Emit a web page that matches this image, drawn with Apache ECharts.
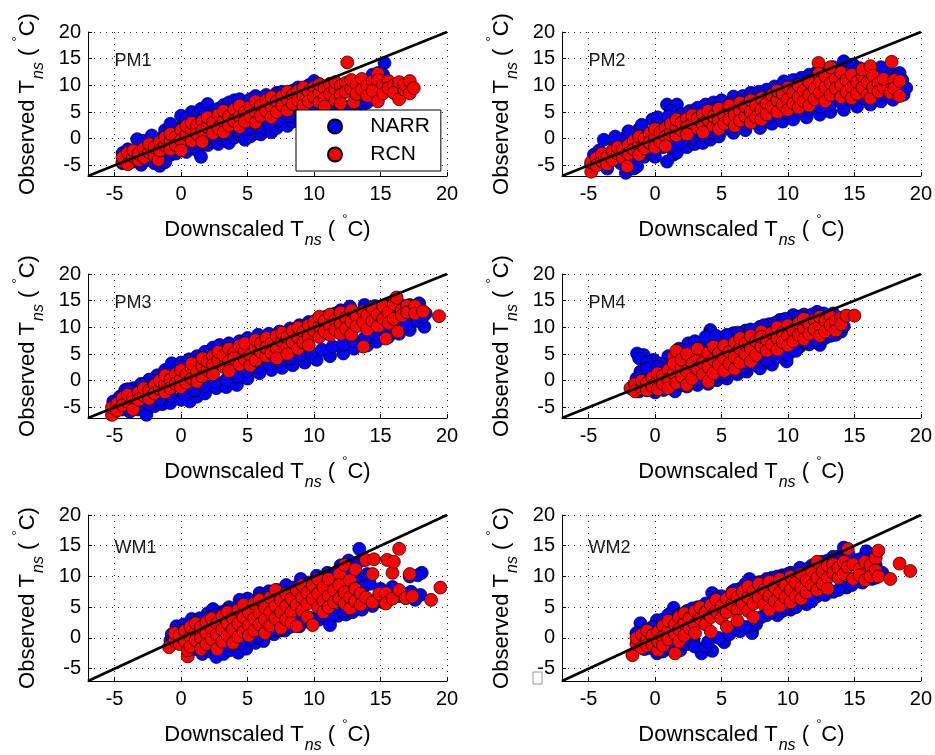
<!DOCTYPE html>
<html>
<head>
<meta charset="utf-8">
<script src="https://cdn.jsdelivr.net/npm/echarts@6/dist/echarts.min.js"></script>
<style>
html,body{margin:0;padding:0;background:#fff;}
#chart{width:935px;height:755px;}
</style>
</head>
<body>
<div id="chart"></div>
<script>
// ---------------- DATA ----------------
const panelNames = ['PM1', 'PM2', 'PM3', 'PM4', 'WM1', 'WM2'];
const seriesNames = ['NARR', 'RCN'];
const tickLabels = [-5, 0, 5, 10, 15, 20];
const axisMin = -7;
const axisMax = 20;
const oneToOne = [[-7, -7], [20, 20]];
const labelAnchor = [-5, 15];

const pm1Narr = [[-4.4,-2.7],[-4.4,-4.6],[-4.0,-2.0],[-3.6,-4.3],[-3.3,-0.1],[-3.0,-1.2],[-3.0,-4.9],[-2.6,-4.0],[-2.6,-2.0],[-2.0,-4.6],[-2.0,-0.6],[-1.6,-5.1],[-1.6,0.0],[-1.2,-4.4],[-1.2,1.6],[-0.8,-3.0],[-0.8,1.8],[-0.4,-2.8],[-0.4,1.2],[0.0,4.3],[0.0,-1.8],[0.0,2.2],[0.4,-2.5],[0.4,2.8],[0.8,5.0],[0.8,-1.6],[1.2,4.4],[1.2,-2.2],[1.2,3.2],[1.5,-3.4],[1.5,5.6],[2.0,6.5],[2.0,-1.2],[2.4,-0.6],[2.4,5.0],[2.8,5.6],[2.8,-1.0],[3.2,6.3],[3.2,0.0],[3.6,-0.8],[3.6,6.8],[4.0,7.2],[4.0,0.2],[4.4,0.8],[4.4,7.4],[4.8,-0.2],[4.8,6.6],[5.2,0.4],[5.2,7.4],[5.6,1.0],[5.6,8.0],[6.0,0.8],[6.0,7.6],[6.4,1.8],[6.4,8.2],[6.8,1.2],[6.8,7.8],[7.2,2.0],[7.2,8.6],[7.6,2.8],[7.6,8.8],[8.0,2.4],[8.0,8.6],[8.4,3.2],[8.4,9.0],[8.8,3.8],[8.8,9.6],[9.2,3.4],[9.2,9.4],[9.6,4.0],[9.6,10.0],[10.0,10.8],[10.0,4.6],[10.4,10.2],[10.4,5.2],[10.8,5.6],[10.8,4.8],[11.2,5.8],[11.6,6.2],[12.0,5.8],[12.0,5.2],[12.4,6.0],[12.8,5.8],[13.2,6.6],[13.6,6.2],[14.0,6.8],[14.8,12.3],[15.3,14.2],[15.2,12.0],
  [-3.8,-3.6],[-3.0,-3.0],[-2.2,-2.6],[-1.4,-2.6],[-0.6,-1.4],[0.2,-0.8],[1.0,-0.6],[1.8,-0.2],[2.6,0.6],[3.4,1.0],[4.2,1.6],[5.0,1.8],[5.8,2.4],[6.6,3.0],[7.4,3.6],[8.2,4.2],[9.0,4.8],[9.8,5.4],[-2.8,-0.4],[-2.2,0.6],[-0.8,2.8],[0.4,3.8],[1.8,4.6],[3.0,4.8],[4.2,5.6],[5.4,6.2],[6.6,6.8],[7.8,7.4],[9.0,8.4],[10.2,9.2],[11.0,9.4],[13.6,10.6],[14.4,12.0]];
const pm1Rcn = [[-4.4,-4.3],[-4.4,-3.5],[-4.0,-2.6],[-4.0,-4.8],[-3.6,-3.3],[-3.6,-2.2],[-3.2,-4.0],[-3.2,-2.8],[-2.8,-1.8],[-2.8,-3.5],[-2.4,-2.5],[-2.4,-1.0],[-2.0,-3.2],[-2.0,-1.6],[-1.7,-4.0],[-1.6,-0.6],[-1.6,-2.2],[-1.2,-1.2],[-1.2,0.2],[-0.8,-0.5],[-0.8,0.9],[-0.8,-2.0],[-0.4,0.3],[-0.4,-1.2],[0.0,1.6],[0.0,-0.3],[0.0,-2.2],[0.4,0.8],[0.4,2.4],[0.8,1.7],[0.8,-0.4],[0.8,3.0],[1.2,2.5],[1.2,0.9],[1.6,3.3],[1.6,1.5],[1.6,-0.6],[2.0,2.2],[2.0,4.0],[2.4,3.0],[2.4,1.0],[2.8,4.5],[2.8,2.0],[3.2,3.3],[3.2,5.2],[3.2,1.2],[3.6,4.2],[3.6,2.5],[4.0,5.5],[4.0,3.3],[4.4,4.2],[4.4,6.2],[4.4,2.2],[4.8,5.0],[4.8,3.2],[5.2,6.0],[5.2,4.2],[5.6,5.0],[5.6,7.0],[5.6,3.0],[6.0,6.2],[6.0,4.3],[6.4,7.2],[6.4,5.2],[6.8,6.0],[6.8,7.8],[6.8,4.0],[7.2,7.0],[7.2,5.0],[7.6,8.0],[7.6,6.2],[8.0,7.3],[8.0,5.3],[8.0,8.8],[8.4,8.2],[8.4,6.5],[8.8,9.0],[8.8,7.2],[9.2,8.0],[9.2,6.2],[9.2,9.6],[9.6,8.8],[9.6,7.0],[10.0,9.7],[10.0,7.8],[10.4,8.5],[10.4,10.2],[10.4,6.8],[10.8,9.4],[10.8,7.6],[10.8,6.0],[11.2,10.3],[11.2,8.4],[11.6,9.2],[11.6,7.2],[11.6,10.6],[12.0,9.9],[12.0,8.2],[12.0,6.6],[12.4,10.5],[12.4,8.8],[12.5,14.3],[12.8,9.4],[12.8,11.0],[13.0,6.8],[13.2,10.2],[13.2,8.4],[13.6,11.2],[13.6,9.2],[14.0,10.0],[14.0,8.0],[14.4,10.8],[14.4,9.0],[14.8,12.2],[14.8,11.0],[14.8,7.0],[15.2,10.0],[15.2,8.5],[15.6,10.8],[15.6,9.5],[16.0,10.0],[16.0,8.6],[16.4,10.6],[16.4,7.4],[16.8,9.2],[16.8,10.2],[17.2,10.8],[17.2,8.5],[17.5,9.5]];

const pm2Narr = [[-4.6,-3.0],[-4.8,-4.8],[-3.86,-0.2],[-4.2,-2.2],[-3.6,-5.6],[-3.0,-1.0],[-2.2,-6.4],[-1.6,-5.6],[-1.35,-5.2],[-2.6,-4.6],[-0.8,-3.4],[-0.4,-2.6],[0.0,-3.4],[0.9,-4.3],[1.4,-3.0],[1.65,-2.6],[-2.4,0.0],[-1.8,1.0],[-1.2,1.8],[-0.2,3.6],[0.2,4.0],[0.9,6.4],[1.65,6.4],[1.2,5.2],[2.0,4.6],[2.6,5.2],[3.2,5.8],[3.8,6.4],[4.4,6.8],[5.0,7.2],[5.9,7.9],[6.6,8.0],[7.2,8.6],[7.8,8.8],[8.4,9.2],[9.0,9.8],[9.7,10.75],[10.4,11.0],[11.0,11.4],[11.6,12.0],[12.2,12.6],[12.8,13.0],[13.4,13.4],[14.2,14.5],[14.9,13.9],[15.4,13.2],[16.0,13.0],[2.4,-1.6],[3.0,-1.0],[3.6,-0.8],[4.16,-0.2],[4.8,0.4],[5.9,1.1],[6.8,1.6],[7.9,2.0],[8.8,2.8],[9.6,3.2],[10.4,3.6],[11.4,4.0],[12.4,4.5],[13.2,5.0],[14.2,5.4],[15.2,6.0],[16.2,6.4],[17.0,7.0],[17.9,7.3],[18.7,8.25],[18.9,9.5],[18.4,12.3],[18.6,11.0],[17.6,12.6],[17.0,13.4],
  [-4.2,-4.0],[-3.4,-3.2],[-2.6,-2.6],[-1.8,-3.4],[-1.0,-2.6],[-0.2,-2.0],[0.6,-1.6],[1.2,-1.4],[2.0,-0.6],[2.8,0.2],[3.6,0.6],[4.4,1.2],[5.2,1.8],[6.0,2.4],[6.8,2.8],[7.6,3.2],[8.4,4.0],[9.2,4.4],[10.0,4.8],[10.8,5.2],[11.6,5.6],[12.4,6.0],[13.2,6.4],[14.0,6.8],[14.8,7.0],[15.6,7.6],[16.4,8.0],[17.2,8.4],[18.0,8.6],[17.8,10.2],[18.2,11.6],[-3.0,0.4],[-2.0,1.4],[-1.0,2.6],[0.2,2.8],[1.0,4.2],[2.2,4.0],[3.2,4.6],[4.4,5.6],[5.6,6.4],[6.8,7.2],[8.0,8.0],[9.2,8.8],[10.4,9.8],[11.6,10.8],[12.8,11.8],[14.0,12.8],[15.2,12.2],[16.4,12.6]];
const pm2Rcn = [[-4.8,-6.2],[-4.8,-4.4],[-4.4,-3.6],[-4.4,-5.0],[-4.0,-4.2],[-4.0,-2.8],[-3.6,-3.4],[-3.6,-4.8],[-3.2,-2.2],[-3.2,-4.0],[-2.8,-2.8],[-2.8,-1.6],[-2.4,-3.6],[-2.4,-2.0],[-2.1,-5.2],[-2.0,-1.2],[-2.0,-2.8],[-1.6,-0.4],[-1.6,-2.0],[-1.2,-1.2],[-1.2,0.4],[-1.2,-3.0],[-0.8,0.0],[-0.8,-1.8],[-0.4,1.0],[-0.4,-0.8],[0.0,0.3],[0.0,-1.6],[0.0,1.8],[0.4,1.2],[0.4,-0.6],[0.8,2.0],[0.8,0.4],[0.8,-1.4],[1.2,1.4],[1.2,2.8],[1.6,0.6],[1.6,2.2],[1.6,3.6],[2.0,1.6],[2.0,3.0],[2.4,3.8],[2.4,2.2],[2.4,0.8],[2.8,3.0],[2.8,4.4],[3.2,2.0],[3.2,3.8],[3.6,4.6],[3.6,2.8],[3.6,1.2],[4.0,3.6],[4.0,5.2],[4.4,2.4],[4.4,4.2],[4.8,5.6],[4.8,3.4],[4.8,1.8],[5.2,4.4],[5.2,2.8],[5.6,5.4],[5.6,3.6],[5.6,6.2],[6.0,4.4],[6.0,2.4],[6.4,5.2],[6.4,6.8],[6.4,3.4],[6.8,4.2],[6.8,6.0],[7.2,7.2],[7.2,5.0],[7.2,3.0],[7.6,6.2],[7.6,4.0],[8.0,7.6],[8.0,5.4],[8.0,3.6],[8.4,6.6],[8.4,4.6],[8.8,8.2],[8.8,6.0],[9.2,7.2],[9.2,5.0],[9.2,9.0],[9.6,8.4],[9.6,6.4],[10.0,7.4],[10.0,9.6],[10.0,5.4],[10.4,8.6],[10.4,6.6],[10.8,10.0],[10.8,7.8],[10.8,5.8],[11.2,9.0],[11.2,7.0],[11.6,10.6],[11.6,8.2],[11.6,6.2],[12.0,9.4],[12.0,7.4],[12.3,14.2],[12.3,12.2],[12.4,10.6],[12.4,8.6],[12.8,11.8],[12.8,9.6],[12.8,7.0],[13.2,10.4],[13.2,8.2],[13.2,13.4],[13.6,11.2],[13.6,9.4],[14.0,10.0],[14.0,7.8],[14.0,12.4],[14.4,11.0],[14.4,8.8],[14.8,12.0],[14.8,9.6],[14.8,7.6],[15.2,10.6],[15.2,8.4],[15.6,11.8],[15.6,9.6],[15.6,13.0],[16.0,10.6],[16.0,8.2],[16.2,7.6],[16.2,13.6],[16.4,11.8],[16.4,9.6],[16.8,10.4],[16.8,8.8],[17.2,9.6],[17.2,11.2],[17.7,8.6],[17.8,14.4],[18.0,11.0],[18.0,9.4],[18.4,10.8],[18.4,8.0]];

const pm3Narr = [[-5.1,-3.9],[-4.6,-3.0],[-4.2,-1.75],[-3.6,-1.4],[-3.0,-0.6],[-2.4,0.2],[-1.8,1.0],[-1.2,2.0],[-0.7,3.25],[0.0,3.4],[0.6,4.0],[1.2,4.6],[1.8,5.4],[2.4,6.2],[2.9,6.7],[3.6,7.0],[4.4,7.4],[5.0,8.0],[5.8,8.6],[6.6,8.8],[7.4,9.2],[8.2,9.8],[8.9,10.4],[9.6,11.0],[10.2,11.4],[10.9,12.0],[11.6,12.6],[12.0,13.2],[12.7,13.9],[13.8,14.2],[14.6,14.0],[15.4,14.2],[16.4,14.4],[17.2,14.2],[17.9,14.5],[18.4,12.6],[18.0,13.4],[-5.0,-5.2],[-3.86,-5.8],[-3.2,-5.4],[-2.6,-6.4],[-2.0,-4.8],[-1.4,-4.4],[-0.8,-4.2],[0.0,-3.6],[0.65,-3.9],[1.2,-3.0],[1.8,-2.4],[2.65,-1.4],[3.4,-1.2],[4.2,-0.8],[5.0,0.4],[5.9,1.4],[6.8,2.0],[7.6,2.4],[8.4,2.9],[9.3,3.4],[10.2,3.9],[11.2,4.6],[12.2,5.1],[13.0,6.0],[14.0,6.6],[14.7,7.3],[15.6,8.2],[16.4,8.8],[17.2,9.5],[18.3,10.1],
  [-4.4,-5.4],[-3.4,-4.4],[-2.4,-4.4],[-1.6,-3.4],[-0.8,-2.8],[0.2,-2.4],[1.0,-1.8],[1.8,-1.0],[2.6,-0.2],[3.4,0.2],[4.2,0.8],[5.0,1.8],[5.8,2.6],[6.6,3.2],[7.4,3.6],[8.2,4.2],[9.0,4.8],[9.8,5.2],[10.6,5.8],[11.4,6.4],[12.2,6.8],[13.0,7.4],[13.8,8.0],[14.6,8.8],[15.4,9.4],[16.2,10.0],[17.0,10.6],[17.8,11.2],[18.2,12.0],[-4.0,-1.6],[-3.0,-0.8],[-2.0,0.0],[-1.0,1.2],[0.2,2.4],[1.2,3.6],[2.2,4.8],[3.2,5.6],[4.2,6.2],[5.2,6.8],[6.2,7.6],[7.2,8.2],[8.2,8.8],[9.2,9.6],[10.2,10.4],[11.2,11.2],[12.2,12.0],[13.2,12.6],[14.2,13.0],[15.2,13.0],[16.2,13.2],[17.0,13.4]];
const pm3Rcn = [[-5.2,-6.4],[-5.2,-5.0],[-4.8,-4.2],[-4.8,-5.6],[-4.4,-3.2],[-4.4,-4.6],[-4.0,-4.0],[-4.0,-2.6],[-3.6,-3.2],[-3.6,-5.4],[-3.2,-2.2],[-3.2,-3.6],[-2.8,-2.8],[-2.8,-1.4],[-2.4,-1.8],[-2.4,-3.4],[-2.0,-0.8],[-2.0,-2.4],[-1.6,-1.6],[-1.6,0.0],[-1.2,-0.6],[-1.2,-2.2],[-1.2,1.0],[-0.8,0.2],[-0.8,-1.4],[-0.4,1.2],[-0.4,-0.6],[0.0,0.4],[0.0,2.0],[0.0,-1.2],[0.4,1.2],[0.4,-0.4],[0.8,2.4],[0.8,0.4],[0.8,3.2],[1.2,1.6],[1.2,-0.2],[1.6,2.8],[1.6,4.2],[1.6,0.8],[2.0,2.0],[2.0,3.6],[2.4,4.6],[2.4,3.0],[2.4,1.2],[2.8,3.8],[2.8,5.4],[3.2,2.6],[3.2,4.8],[3.6,6.0],[3.6,3.6],[3.6,1.8],[4.0,5.2],[4.0,4.2],[4.4,6.6],[4.4,3.0],[4.8,5.6],[4.8,4.0],[4.8,7.0],[5.2,4.8],[5.2,2.8],[5.6,6.2],[5.6,7.6],[5.6,3.8],[6.0,5.4],[6.0,7.0],[6.4,8.0],[6.4,4.6],[6.4,6.2],[6.8,7.0],[6.8,5.2],[7.2,8.4],[7.2,6.0],[7.2,4.2],[7.6,7.4],[7.6,9.0],[8.0,6.4],[8.0,8.2],[8.0,5.0],[8.4,9.4],[8.4,7.2],[8.8,8.2],[8.8,6.0],[8.8,10.0],[9.2,9.2],[9.2,7.2],[9.6,10.4],[9.6,8.2],[9.6,6.6],[10.0,9.4],[10.0,11.0],[10.4,10.2],[10.4,8.2],[10.4,12.0],[10.8,11.2],[10.8,9.2],[11.2,12.4],[11.2,10.2],[11.2,8.6],[11.6,11.4],[11.6,9.6],[12.0,12.8],[12.0,10.6],[12.0,8.8],[12.4,11.8],[12.4,9.8],[12.8,13.2],[12.8,11.0],[12.8,8.6],[13.2,12.0],[13.2,10.2],[13.7,6.4],[13.7,13.0],[13.7,11.0],[14.0,12.2],[14.0,9.6],[14.4,13.6],[14.4,11.2],[14.8,12.4],[14.8,10.2],[15.2,14.0],[15.2,11.6],[15.4,7.9],[15.6,12.8],[15.6,10.8],[16.0,14.4],[16.0,11.6],[16.2,15.6],[16.3,9.2],[16.6,13.2],[16.6,12.2],[17.0,14.0],[17.0,12.8],[17.6,14.0],[17.6,12.6],[18.2,13.0],[19.4,12.1]];

const pm4Narr = [[-1.35,5.1],[-0.85,4.8],[-0.1,3.9],[-1.1,1.7],[-1.6,-1.0],[-1.2,-2.0],[-0.6,-1.8],[0.0,-2.2],[0.65,-1.75],[1.5,-2.0],[2.4,-1.1],[3.2,-0.8],[4.0,-0.6],[4.66,0.1],[5.4,0.4],[6.2,1.2],[6.9,1.7],[7.9,2.3],[8.8,3.0],[9.9,3.6],[10.9,6.4],[11.6,6.8],[12.4,6.7],[12.8,8.0],[13.6,8.6],[14.0,9.2],[2.5,7.0],[3.4,6.6],[4.16,9.5],[4.16,8.9],[5.0,8.0],[5.9,8.9],[6.8,9.4],[7.9,10.1],[8.6,10.6],[9.4,11.4],[10.4,12.3],[11.2,12.4],[12.2,12.9],[12.7,12.6],[13.4,12.6],[1.0,4.6],[0.4,3.2],
  [-1.2,4.2],[-0.6,3.4],[-0.6,2.2],[0.2,2.6],[-1.4,0.4],[-0.8,-0.6],[0.4,-1.2],[1.2,-1.0],[2.0,-0.8],[2.8,-0.2],[3.6,0.0],[4.4,0.6],[5.2,1.2],[6.0,1.8],[6.8,2.6],[7.6,3.0],[8.4,3.8],[9.2,4.4],[10.0,4.8],[10.6,5.6],[11.4,7.2],[12.2,7.6],[13.2,8.4],[1.8,6.0],[3.0,7.4],[3.8,8.2],[4.6,8.4],[5.4,8.6],[6.2,9.0],[7.2,9.6],[8.2,10.4],[9.0,10.8],[9.8,11.6],[10.8,12.0],[11.8,12.4],[13.8,11.0],[14.2,10.2]];
const pm4Rcn = [[-1.85,-1.4],[-1.5,-0.6],[-1.5,-2.0],[-1.0,-1.4],[-1.0,0.0],[-0.6,-0.4],[-0.6,-1.8],[-0.2,0.6],[-0.2,-1.0],[0.2,0.0],[0.2,1.4],[0.2,-1.6],[0.6,1.0],[0.6,-0.6],[1.0,2.0],[1.0,0.2],[1.0,-1.4],[1.4,1.4],[1.4,4.6],[1.4,3.2],[1.6,5.6],[1.6,-0.4],[2.0,2.6],[2.0,0.8],[2.0,4.0],[2.4,1.8],[2.4,5.0],[2.4,-0.8],[2.8,3.2],[2.8,0.4],[3.2,4.4],[3.2,2.2],[3.2,6.0],[3.6,1.2],[3.6,3.4],[4.0,5.2],[4.0,2.6],[4.0,-0.2],[4.4,4.0],[4.4,6.4],[4.4,1.4],[4.8,3.0],[4.8,5.2],[5.2,6.6],[5.2,4.2],[5.2,1.8],[5.6,5.4],[5.6,3.2],[6.0,7.2],[6.0,4.4],[6.0,2.2],[6.4,6.0],[6.4,3.4],[6.4,8.0],[6.8,7.0],[6.8,5.0],[7.2,8.4],[7.2,6.0],[7.2,3.6],[7.6,7.4],[7.6,4.8],[8.0,9.2],[8.0,6.4],[8.0,8.2],[8.4,7.6],[8.4,5.6],[8.8,9.0],[8.8,6.8],[9.2,10.0],[9.2,8.0],[9.2,5.8],[9.6,9.0],[9.6,7.2],[10.0,10.4],[10.0,8.4],[10.0,6.6],[10.4,9.4],[10.4,7.4],[10.8,10.8],[10.8,8.6],[11.2,9.8],[11.2,11.6],[11.2,7.8],[11.6,10.6],[11.6,8.8],[12.0,11.4],[12.0,9.6],[12.4,10.4],[12.4,12.0],[12.4,8.4],[12.8,11.2],[12.8,9.2],[13.2,12.0],[13.2,10.4],[13.6,11.2],[13.6,9.4],[14.0,11.8],[14.0,10.6],[14.4,12.2],[15.0,12.2]];

const wm1Narr = [[-0.7,0.6],[-0.35,1.9],[-0.8,-0.4],[0.2,2.2],[0.8,3.1],[1.4,3.2],[2.0,4.0],[2.4,4.7],[3.0,4.2],[3.6,5.0],[4.4,6.2],[5.0,6.4],[5.9,7.3],[6.6,7.6],[7.2,7.8],[7.9,8.6],[9.0,9.6],[10.2,10.1],[11.0,10.6],[12.0,11.8],[12.6,12.6],[13.4,14.5],[13.7,12.7],[13.5,9.8],[13.7,8.3],[1.0,-1.8],[1.6,-2.6],[2.2,-2.2],[2.65,-3.1],[3.2,-2.6],[3.66,-2.0],[4.3,-2.4],[4.9,-1.75],[5.6,-0.8],[6.2,-0.5],[7.0,0.6],[7.8,1.2],[8.9,1.9],[9.6,2.6],[10.4,3.0],[11.2,2.1],[11.8,3.6],[12.4,3.8],[12.9,4.2],[13.6,4.6],[14.4,5.2],[15.2,5.8],[15.9,8.3],[16.9,6.5],[17.3,7.5],[17.4,6.75],[17.6,6.2],[18.1,10.6],[17.2,10.0],
  [-0.6,-0.2],[0.0,1.2],[0.4,-1.0],[1.2,-1.2],[2.0,-1.4],[2.8,-1.4],[3.4,-1.2],[4.0,-1.0],[4.6,-0.6],[5.2,-0.2],[5.8,0.2],[6.6,0.8],[7.4,1.2],[8.2,1.8],[9.0,2.8],[9.8,3.2],[10.6,3.6],[11.4,3.8],[12.2,4.4],[13.0,5.0],[13.8,5.4],[14.6,6.0],[15.6,6.2],[16.4,6.8],[17.0,7.2],[1.0,2.4],[1.8,3.2],[2.6,3.8],[3.4,4.4],[4.2,5.0],[5.0,5.6],[5.8,6.4],[6.6,7.0],[7.4,7.4],[8.4,8.2],[9.6,9.0],[10.6,9.4],[11.6,10.2],[12.6,11.2],[13.2,12.0],[14.0,10.4],[14.2,8.8],[15.0,8.0],[17.8,10.2],[18.0,7.0]];
const wm1Rcn = [[-0.9,-1.5],[-0.5,-0.4],[-0.5,0.8],[-0.1,-1.0],[-0.1,0.4],[0.3,1.2],[0.3,-0.6],[0.5,-3.0],[0.5,-2.0],[0.7,0.2],[0.7,1.8],[0.7,-1.4],[1.1,1.0],[1.1,-0.4],[1.1,2.4],[1.5,0.0],[1.5,1.8],[1.5,-1.8],[1.9,2.6],[1.9,0.8],[1.9,-1.0],[2.3,1.6],[2.3,3.2],[2.3,-0.2],[2.7,2.4],[2.7,0.6],[2.7,-1.8],[3.1,3.6],[3.1,1.4],[3.1,-0.6],[3.5,2.4],[3.5,4.2],[3.5,0.4],[3.9,3.2],[3.9,1.4],[3.9,-0.8],[4.3,4.6],[4.3,2.4],[4.3,0.2],[4.7,3.4],[4.7,1.0],[4.7,5.4],[5.1,4.2],[5.1,2.0],[5.1,0.4],[5.5,5.6],[5.5,3.2],[5.5,1.2],[5.9,4.0],[5.9,6.2],[5.9,2.2],[6.3,3.0],[6.3,5.0],[6.3,0.8],[6.7,6.6],[6.7,4.2],[6.7,2.0],[7.1,5.2],[7.1,3.2],[7.1,7.8],[7.5,6.2],[7.5,4.2],[7.5,1.6],[7.9,5.2],[7.9,7.2],[7.9,3.0],[8.3,6.4],[8.3,4.2],[8.3,2.4],[8.7,7.8],[8.7,5.4],[8.7,1.9],[9.1,6.6],[9.1,4.4],[9.1,8.6],[9.5,5.6],[9.5,7.4],[9.5,3.4],[9.9,8.6],[9.9,6.4],[9.9,2.1],[10.3,7.2],[10.3,5.0],[10.3,9.6],[10.7,8.2],[10.7,6.0],[10.7,4.2],[11.1,9.6],[11.1,6.8],[11.1,5.0],[11.5,7.8],[11.5,5.8],[11.9,10.4],[11.9,8.6],[11.9,6.4],[12.3,11.9],[12.3,7.4],[12.3,5.6],[12.7,9.4],[12.7,6.6],[12.7,4.8],[13.1,11.2],[13.1,8.0],[13.1,6.0],[13.5,7.2],[13.5,5.4],[13.9,12.7],[13.9,6.6],[14.4,10.4],[14.4,5.8],[14.5,12.8],[14.9,7.2],[15.4,7.3],[15.4,5.6],[15.5,12.7],[15.9,10.6],[15.9,6.4],[16.0,12.4],[16.4,14.5],[16.4,7.8],[16.9,6.5],[17.2,10.4],[17.4,6.8],[18.8,6.2],[19.5,8.2]];

const wm2Narr = [[-1.1,2.4],[-0.6,1.3],[0.15,2.9],[1.4,4.9],[-1.3,-0.4],[-0.8,-1.8],[0.15,-2.5],[0.6,-2.2],[1.3,-1.2],[1.9,-2.0],[2.9,-0.5],[3.5,-2.5],[4.3,-2.1],[5.2,-0.7],[6.4,1.1],[7.3,0.8],[7.6,2.2],[8.4,3.7],[9.2,3.7],[10.2,4.6],[11.4,5.5],[12.2,6.8],[13.4,7.5],[14.4,8.2],[15.2,9.2],[16.3,9.6],[17.1,10.6],[2.4,4.4],[3.2,5.0],[4.3,7.3],[4.7,6.75],[5.8,7.5],[6.4,8.0],[7.1,9.6],[7.9,9.1],[8.8,9.8],[9.6,10.2],[10.2,10.6],[10.9,11.4],[11.8,11.8],[12.6,12.4],[13.4,13.2],[14.2,14.7],[14.9,12.4],[15.9,14.1],[16.2,12.8],
  [-1.4,0.8],[-0.8,0.2],[-0.2,1.8],[0.6,3.0],[1.0,3.8],[1.8,3.8],[-1.0,-1.0],[-0.4,-1.6],[0.4,-1.6],[1.0,-1.6],[1.6,-1.0],[2.4,-1.0],[3.0,-1.4],[3.8,-1.4],[4.0,-0.6],[4.8,0.0],[5.6,0.6],[6.0,1.6],[6.8,1.8],[7.6,2.8],[8.0,3.4],[8.8,4.2],[9.6,4.4],[10.6,5.0],[11.8,6.0],[12.8,7.0],[13.8,7.8],[14.8,8.6],[15.6,9.0],[16.6,9.8],[2.8,4.8],[3.8,5.6],[5.0,6.8],[6.0,7.8],[6.8,8.8],[7.6,9.0],[8.4,9.6],[9.2,10.0],[10.0,10.4],[11.4,11.2],[12.2,12.0],[13.0,12.6],[13.8,13.2],[14.6,13.4],[15.4,12.8],[16.6,11.8]];
const wm2Rcn = [[-1.7,-2.8],[-1.4,-1.0],[-1.4,0.0],[-1.0,-1.6],[-1.0,0.6],[-0.6,-0.2],[-0.6,1.2],[-0.6,-1.2],[-0.2,0.4],[-0.2,-1.0],[0.23,-2.0],[0.23,1.0],[0.23,-0.6],[0.6,2.0],[0.6,0.2],[0.6,-1.2],[1.0,1.2],[1.0,-0.2],[1.0,2.8],[1.5,-2.5],[1.5,0.6],[1.5,2.2],[1.8,3.4],[1.8,1.4],[1.8,-0.6],[2.2,2.4],[2.2,0.4],[2.2,4.0],[2.6,3.2],[2.6,1.6],[3.0,4.4],[3.0,2.2],[3.0,0.8],[3.4,3.2],[3.4,5.0],[3.8,4.2],[3.8,2.2],[4.2,5.4],[4.2,3.4],[4.2,1.0],[4.6,4.4],[4.6,6.2],[5.0,5.2],[5.0,3.2],[5.4,6.4],[5.4,4.2],[5.4,1.8],[5.8,5.4],[5.8,7.2],[6.2,4.6],[6.2,6.6],[6.2,2.8],[6.6,7.6],[6.6,5.6],[7.0,6.6],[7.0,4.4],[7.0,8.4],[7.4,7.6],[7.4,5.6],[7.4,3.4],[7.8,8.8],[7.8,6.6],[8.2,7.8],[8.2,5.4],[8.6,9.2],[8.6,6.8],[8.6,4.6],[9.0,8.2],[9.0,6.0],[9.4,9.6],[9.4,7.4],[9.4,5.2],[9.8,8.6],[9.8,6.6],[10.2,10.0],[10.2,7.8],[10.2,5.8],[10.6,9.0],[10.6,6.8],[11.0,10.4],[11.0,8.2],[11.0,6.4],[11.4,9.4],[11.4,7.4],[11.8,11.0],[11.8,8.6],[12.2,12.4],[12.2,9.8],[12.2,7.8],[12.6,10.8],[12.6,8.8],[13.0,11.8],[13.0,9.8],[13.0,8.0],[13.4,12.0],[13.4,10.6],[13.8,9.8],[13.8,11.4],[14.2,12.4],[14.2,10.4],[14.5,14.5],[14.5,11.6],[14.9,9.6],[14.9,12.0],[15.4,11.2],[15.4,10.2],[15.8,12.4],[15.8,9.4],[16.2,11.8],[16.2,10.0],[16.6,13.0],[16.6,11.0],[16.8,14.2],[16.8,10.0],[17.7,9.6],[18.4,12.1],[19.2,10.9]];

const narrData = [pm1Narr, pm2Narr, pm3Narr, pm4Narr, wm1Narr, wm2Narr];
const rcnData = [pm1Rcn, pm2Rcn, pm3Rcn, pm4Rcn, wm1Rcn, wm2Rcn];
const seriesColors = ['#0000ff', '#ff0000'];

// ---------------- LAYOUT / STYLE ----------------
const FONT = '"Liberation Sans", Arial, Helvetica, sans-serif';
const layouts = [
  {left: 88, top: 32, width: 359, height: 144},
  {left: 562, top: 32, width: 359, height: 144},
  {left: 88, top: 274, width: 359, height: 144},
  {left: 562, top: 274, width: 359, height: 144},
  {left: 88, top: 515, width: 359, height: 174},
  {left: 562, top: 515, width: 359, height: 174}
];

const nameRich = {
  a: {fontSize: 22, fontFamily: FONT, color: '#000'},
  s: {fontSize: 16, fontStyle: 'italic', fontFamily: FONT, color: '#000', padding: [22, 0, 0, 1]},
  d: {fontSize: 13, fontFamily: FONT, color: '#000', padding: [0, 0, 22, 1]}
};
const xName = '{a|Downscaled T}{s|ns}{a| ( }{d|°}{a|C)}';
const yName = '{a|Observed T}{s|ns}{a| ( }{d|°}{a|C)}';

function labelFmt(v) {
  return tickLabels.indexOf(v) >= 0 ? String(v) : '';
}

function axisCommon(i) {
  return {
    gridIndex: i,
    type: 'value',
    min: axisMin,
    max: axisMax,
    splitNumber: 5,
    axisLine: {onZero: false, lineStyle: {color: '#000', width: 1}},
    axisTick: {inside: true, length: 4, lineStyle: {color: '#000'}},
    splitLine: {show: true, lineStyle: {color: '#222', width: 1, type: [1, 5]}},
    nameLocation: 'middle',
    nameTextStyle: {rich: nameRich}
  };
}

const grids = layouts.map(l => Object.assign({containLabel: false}, l));
const xAxes = layouts.map((l, i) => Object.assign(axisCommon(i), {
  name: xName, nameGap: 35,
  axisLabel: {formatter: labelFmt, fontSize: 20, fontFamily: FONT, color: '#000', margin: 8}
}));
const yAxes = layouts.map((l, i) => Object.assign(axisCommon(i), {
  name: yName, nameGap: 41, nameRotate: 90,
  axisLabel: {formatter: labelFmt, fontSize: 20, fontFamily: FONT, color: '#000', margin: 7}
}));

const series = [];
panelNames.forEach((p, i) => {
  [narrData[i], rcnData[i]].forEach((d, k) => {
    series.push({
      type: 'scatter', name: seriesNames[k], xAxisIndex: i, yAxisIndex: i,
      data: d, symbol: 'circle', symbolSize: 13,
      itemStyle: {color: seriesColors[k], borderColor: '#000', borderWidth: 0.7, opacity: 1},
      emphasis: {disabled: true}, silent: true
    });
  });
  series.push({
    type: 'line', name: '1:1', xAxisIndex: i, yAxisIndex: i,
    data: oneToOne, symbol: 'none', silent: true,
    lineStyle: {color: '#000', width: 2.6}, z: 3
  });
});

const option = {
  backgroundColor: '#fff',
  animation: false,
  grid: grids,
  xAxis: xAxes,
  yAxis: yAxes,
  legend: {
    data: seriesNames, orient: 'vertical', left: 296, top: 110,
    itemWidth: 14, itemHeight: 14, itemGap: 7,
    padding: [6, 11, 6, 31],
    formatter: function (n) { return '    ' + n; },
    backgroundColor: '#fff', borderColor: '#000', borderWidth: 1, borderRadius: 0,
    selectedMode: false,
    textStyle: {fontSize: 21, fontFamily: FONT, color: '#000'}
  },
  series: series
};

const chart = echarts.init(document.getElementById('chart'), null, {renderer: 'canvas'});
chart.setOption(option);

// panel labels anchored at data coordinates
const graphics = panelNames.map((p, i) => {
  const pt = chart.convertToPixel({gridIndex: i}, labelAnchor);
  return {
    type: 'text', left: pt[0], top: pt[1] - 7,
    style: {text: p, fontSize: 18, fontFamily: FONT, fill: '#1a1a1a'}
  };
});
// small stray glyph box seen near the WM2 axis
graphics.push({type: 'rect', shape: {x: 533, y: 672, width: 9, height: 12},
  style: {fill: 'none', stroke: '#9a9a9a', lineWidth: 1}, z: 10});
chart.setOption({graphic: graphics});
</script>
</body>
</html>
